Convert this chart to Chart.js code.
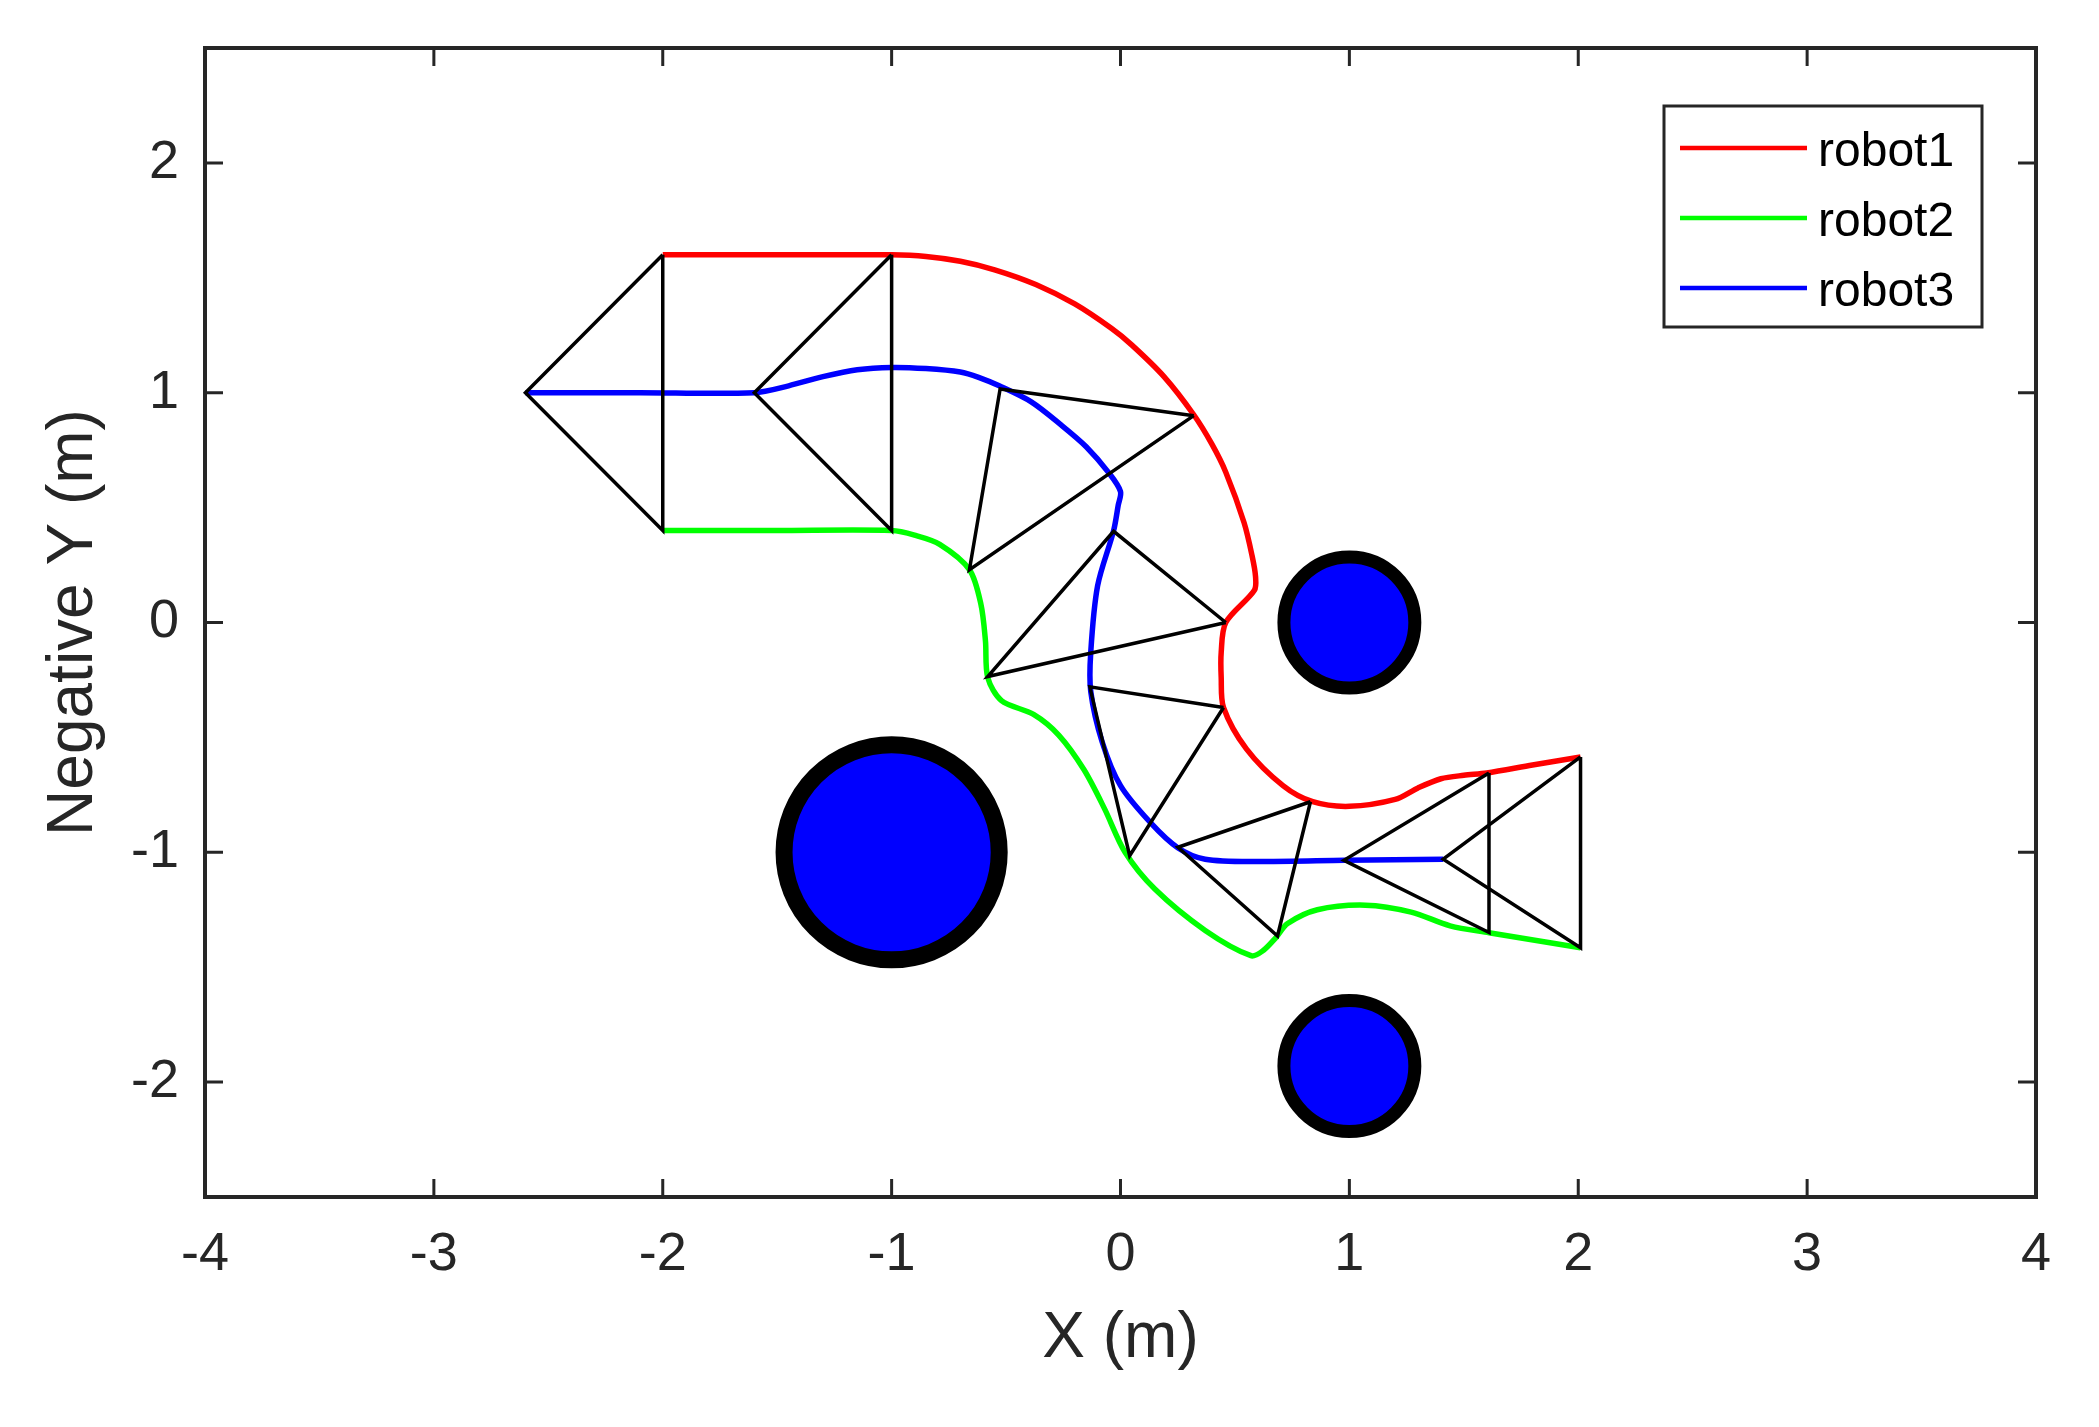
<!DOCTYPE html>
<html>
<head>
<meta charset="utf-8">
<script src="https://cdn.jsdelivr.net/npm/chart.js@4.4.1/dist/chart.umd.min.js"></script>
<style>
  html, body { margin: 0; padding: 0; background: #fff; }
  canvas { display: block; }
</style>
</head>
<body>
<canvas id="chart" width="2099" height="1427"></canvas>
<script>
// axis ticks
const xTicks = [-4, -3, -2, -1, 0, 1, 2, 3, 4];
const xTickLabels = ['-4', '-3', '-2', '-1', '0', '1', '2', '3', '4'];
const yTicks = [-2, -1, 0, 1, 2];
const yTickLabels = ['-2', '-1', '0', '1', '2'];

// robot paths
const robotNames = ['robot1', 'robot2', 'robot3'];
const robot1X = [-2.00, -1.50, -1.00, -0.85, -0.70, -0.55, -0.37, -0.20, -0.04, 0.05, 0.19, 0.32, 0.40, 0.46, 0.54, 0.575, 0.59, 0.585, 0.46, 0.44, 0.44, 0.45, 0.55, 0.71, 0.84, 1.00, 1.20, 1.30, 1.40, 1.50, 1.60, 1.80, 2.01];
const robot1Y = [1.60, 1.60, 1.60, 1.593, 1.572, 1.535, 1.471, 1.386, 1.28, 1.207, 1.07, 0.904, 0.775, 0.654, 0.434, 0.29, 0.20, 0.14, 0.00, -0.13, -0.24, -0.37, -0.55, -0.71, -0.78, -0.80, -0.77, -0.72, -0.68, -0.665, -0.655, -0.62, -0.585];
const robot2X = [-2.00, -1.50, -1.00, -0.90, -0.79, -0.66, -0.61, -0.59, -0.58, -0.52, -0.38, -0.27, -0.16, -0.07, 0.02, 0.15, 0.37, 0.57, 0.62, 0.68, 0.73, 0.86, 1.07, 1.27, 1.44, 1.61, 2.01];
const robot2Y = [0.40, 0.40, 0.40, 0.38, 0.34, 0.23, 0.08, -0.08, -0.24, -0.34, -0.40, -0.49, -0.64, -0.81, -1.00, -1.16, -1.34, -1.45, -1.43, -1.37, -1.31, -1.25, -1.23, -1.26, -1.32, -1.35, -1.415];
const robot3X = [-2.60, -2.10, -1.60, -1.45, -1.30, -1.15, -1.00, -0.85, -0.70, -0.62, -0.53, -0.39, -0.26, -0.15, -0.05, 0.00, -0.01, -0.03, -0.10, -0.13, -0.13, -0.08, 0.00, 0.13, 0.25, 0.37, 0.60, 0.98, 1.41];
const robot3Y = [1.00, 1.00, 1.00, 1.03, 1.07, 1.10, 1.11, 1.105, 1.09, 1.067, 1.03, 0.96, 0.86, 0.765, 0.65, 0.57, 0.51, 0.40, 0.16, -0.13, -0.30, -0.52, -0.71, -0.87, -0.98, -1.03, -1.04, -1.035, -1.03];

// formation snapshots (triangle vertices)
const snapR1X = [-2.00, -1.00, 0.32, 0.46, 0.45, 0.83, 1.61, 2.01];
const snapR1Y = [1.60, 1.60, 0.90, 0.00, -0.37, -0.78, -0.655, -0.585];
const snapR2X = [-2.00, -1.00, -0.66, -0.58, 0.04, 0.686, 1.61, 2.01];
const snapR2Y = [0.40, 0.40, 0.23, -0.235, -1.015, -1.364, -1.349, -1.415];
const snapR3X = [-2.60, -1.60, -0.526, -0.03, -0.134, 0.251, 0.976, 1.41];
const snapR3Y = [1.00, 1.00, 1.016, 0.397, -0.28, -0.978, -1.035, -1.03];

// obstacles
const obstacleX = [-1, 1, 1];
const obstacleY = [-1, 0, -1.93];
const obstacleR = [0.47, 0.286, 0.286];

const AXIS_COLOR = '#262626';
const FONT = '"Liberation Sans", Arial, Helvetica, sans-serif';

const toPoints = (xs, ys) => xs.map((x, i) => ({ x: x, y: ys[i] }));

const robotColors = ['#ff0000', '#00ff00', '#0000ff'];
const robotData = [
  toPoints(robot1X, robot1Y),
  toPoints(robot2X, robot2Y),
  toPoints(robot3X, robot3Y),
];

const datasets = [];

snapR1X.forEach((_, i) => {
  const a = { x: snapR1X[i], y: snapR1Y[i] };
  const b = { x: snapR2X[i], y: snapR2Y[i] };
  const c = { x: snapR3X[i], y: snapR3Y[i] };
  datasets.push({
    data: [a, b, c, a],
    showLine: true,
    borderColor: '#000000',
    borderWidth: 3.5,
    pointRadius: 0,
    tension: 0,
    order: 0,
  });
});

robotNames.forEach((name, i) => {
  datasets.push({
    label: name,
    data: robotData[i],
    showLine: true,
    borderColor: robotColors[i],
    borderWidth: 5.5,
    pointRadius: 0,
    tension: 0.3,
    order: 1,
  });
});

datasets.push({
  data: toPoints(obstacleX, obstacleY),
  showLine: false,
  pointStyle: 'circle',
  backgroundColor: '#0000ff',
  borderColor: '#000000',
  borderWidth: ctx => (ctx.dataIndex === 0 ? 17 : 13),
  pointRadius: ctx => {
    const s = ctx.chart.scales.x;
    const r = obstacleR[ctx.dataIndex ?? 0];
    return Math.abs(s.getPixelForValue(r) - s.getPixelForValue(0));
  },
  order: 2,
});

// MATLAB style box with inward ticks
const matlabBox = {
  id: 'matlabBox',
  afterDatasetsDraw(chart) {
    const { ctx, chartArea: a, scales: { x, y } } = chart;
    const len = 18;
    ctx.save();
    ctx.strokeStyle = AXIS_COLOR;
    ctx.lineWidth = 3;
    ctx.beginPath();
    xTicks.forEach(v => {
      const px = x.getPixelForValue(v);
      ctx.moveTo(px, a.bottom); ctx.lineTo(px, a.bottom - len);
      ctx.moveTo(px, a.top); ctx.lineTo(px, a.top + len);
    });
    yTicks.forEach(v => {
      const py = y.getPixelForValue(v);
      ctx.moveTo(a.left, py); ctx.lineTo(a.left + len, py);
      ctx.moveTo(a.right, py); ctx.lineTo(a.right - len, py);
    });
    ctx.stroke();
    ctx.lineWidth = 4;
    ctx.strokeRect(a.left, a.top, a.right - a.left, a.bottom - a.top);
    ctx.restore();
  },
};

// boxed legend in the upper right corner
const boxLegend = {
  id: 'boxLegend',
  afterDraw(chart) {
    const { ctx, chartArea: a } = chart;
    const items = chart.data.datasets.filter(d => d.label);
    const w = 318, h = 221;
    const left = a.right - 54 - w, top = a.top + 58;
    ctx.save();
    ctx.fillStyle = '#ffffff';
    ctx.fillRect(left, top, w, h);
    ctx.strokeStyle = AXIS_COLOR;
    ctx.lineWidth = 3;
    ctx.strokeRect(left, top, w, h);
    ctx.font = '48px ' + FONT;
    ctx.textBaseline = 'alphabetic';
    items.forEach((d, i) => {
      const ly = top + 42 + i * 70;
      ctx.strokeStyle = d.borderColor;
      ctx.lineWidth = 4.5;
      ctx.beginPath();
      ctx.moveTo(left + 16, ly);
      ctx.lineTo(left + 143, ly);
      ctx.stroke();
      ctx.fillStyle = '#000000';
      ctx.fillText(d.label, left + 154, ly + 18);
    });
    ctx.restore();
  },
};

new Chart(document.getElementById('chart'), {
  type: 'scatter',
  data: { datasets },
  plugins: [matlabBox, boxLegend],
  options: {
    responsive: false,
    animation: false,
    events: [],
    layout: { padding: { top: 48, right: 63, left: 0, bottom: 0 } },
    plugins: {
      legend: { display: false },
      tooltip: { enabled: false },
    },
    scales: {
      x: {
        type: 'linear',
        min: -4,
        max: 4,
        afterBuildTicks: s => { s.ticks = xTicks.map(v => ({ value: v })); },
        afterFit: s => { s.height = 230; s.paddingLeft = 0; s.paddingRight = 0; },
        grid: { display: false, drawTicks: false },
        border: { display: false },
        ticks: {
          color: AXIS_COLOR,
          padding: 26,
          maxRotation: 0,
          font: { family: FONT, size: 54 },
          callback: (v, i) => xTickLabels[i],
        },
        title: {
          display: true,
          text: 'X (m)',
          color: AXIS_COLOR,
          font: { family: FONT, size: 64 },
          padding: { top: 0, bottom: 49 },
        },
      },
      y: {
        type: 'linear',
        min: -2.5,
        max: 2.5,
        afterBuildTicks: s => { s.ticks = yTicks.map(v => ({ value: v })); },
        afterFit: s => { s.width = 205; s.paddingTop = 0; s.paddingBottom = 0; },
        grid: { display: false, drawTicks: false },
        border: { display: false },
        ticks: {
          color: AXIS_COLOR,
          padding: 26,
          font: { family: FONT, size: 54 },
          callback: (v, i) => yTickLabels[i],
        },
        title: {
          display: true,
          text: 'Negative Y (m)',
          color: AXIS_COLOR,
          font: { family: FONT, size: 64 },
          padding: { top: 36, bottom: 0 },
        },
      },
    },
  },
});
</script>
</body>
</html>
